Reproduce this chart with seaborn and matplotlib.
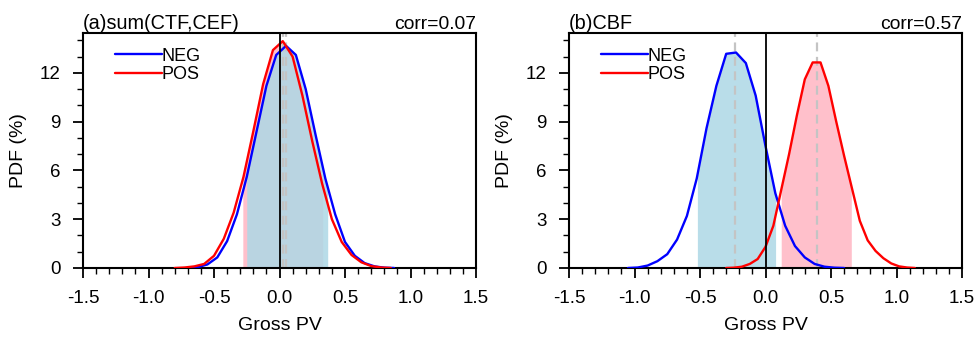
import numpy as np
import matplotlib
matplotlib.use("Agg")
import matplotlib.pyplot as plt
import seaborn as sns
from matplotlib.ticker import MultipleLocator

sns.set_theme(style="ticks")
plt.rcParams["font.family"] = ["Liberation Sans", "DejaVu Sans"]
plt.rcParams["text.color"] = "black"
plt.rcParams["axes.labelcolor"] = "black"

# panel (a): sum(CTF,CEF)
x_neg_a = [-0.7, -0.625, -0.55, -0.475, -0.4, -0.325, -0.25, -0.175, -0.1, -0.025,
           0.05, 0.125, 0.2, 0.275, 0.35, 0.425, 0.5, 0.575, 0.65, 0.725, 0.8, 0.875]
pdf_neg_a = [0.0, 0.05, 0.22, 0.65, 1.65, 3.3, 5.6, 8.4, 11.2, 13.1,
             13.66, 13.1, 11.0, 8.2, 5.5, 3.3, 1.6, 0.75, 0.3, 0.1, 0.02, 0.0]
x_pos_a = [-0.8, -0.725, -0.65, -0.575, -0.5, -0.425, -0.35, -0.275, -0.2, -0.125, -0.05,
           0.025, 0.1, 0.175, 0.25, 0.325, 0.4, 0.475, 0.55, 0.625, 0.7, 0.775, 0.85]
pdf_pos_a = [0.0, 0.03, 0.1, 0.25, 0.75, 1.8, 3.4, 5.6, 8.4, 11.3, 13.4,
             13.95, 13.0, 10.6, 7.8, 5.2, 3.0, 1.6, 0.8, 0.35, 0.12, 0.03, 0.0]

# panel (b): CBF
x_neg_b = [-1.05, -0.975, -0.9, -0.825, -0.75, -0.675, -0.6, -0.525, -0.45, -0.375, -0.3,
           -0.225, -0.15, -0.075, 0.0, 0.075, 0.15, 0.225, 0.3, 0.375, 0.45, 0.525, 0.6]
pdf_neg_b = [0.0, 0.03, 0.15, 0.42, 0.85, 1.75, 3.2, 5.5, 8.6, 11.2, 13.17,
             13.25, 12.6, 10.6, 7.5, 4.6, 2.6, 1.35, 0.65, 0.25, 0.08, 0.02, 0.0]
x_pos_b = [-0.3, -0.24, -0.18, -0.12, -0.06, 0.0, 0.06, 0.12, 0.18, 0.24, 0.3, 0.36, 0.42,
           0.48, 0.54, 0.6, 0.66, 0.72, 0.78, 0.84, 0.9, 0.96, 1.02, 1.08, 1.14]
pdf_pos_b = [0.0, 0.02, 0.08, 0.25, 0.55, 1.3, 2.6, 4.8, 7.0, 9.4, 11.6, 12.64, 12.64,
             11.2, 9.0, 6.9, 4.9, 2.9, 1.7, 1.05, 0.6, 0.28, 0.1, 0.03, 0.0]

panels = [
    {"title": "(a)sum(CTF,CEF)", "corr": "corr=0.07",
     "neg": (x_neg_a, pdf_neg_a), "pos": (x_pos_a, pdf_pos_a),
     "neg_range": (-0.25, 0.368), "pos_range": (-0.28, 0.33),
     "neg_mean": 0.05, "pos_mean": 0.024},
    {"title": "(b)CBF", "corr": "corr=0.57",
     "neg": (x_neg_b, pdf_neg_b), "pos": (x_pos_b, pdf_pos_b),
     "neg_range": (-0.52, 0.077), "pos_range": (0.12, 0.655),
     "neg_mean": -0.235, "pos_mean": 0.39},
]


def fill_range(ax, x, y, lo, hi, color, alpha=1.0):
    x = np.asarray(x)
    xs = np.concatenate([[lo], x[(x > lo) & (x < hi)], [hi]])
    ys = np.interp(xs, x, y)
    ax.fill_between(xs, 0, ys, color=color, lw=0, alpha=alpha, zorder=1)


fig = plt.figure(figsize=(9.74, 3.37), dpi=100)
lefts = [83 / 974, 569 / 974]

for left, p in zip(lefts, panels):
    ax = fig.add_axes([left, 69 / 337, 393 / 974, 235 / 337])

    fill_range(ax, *p["pos"], *p["pos_range"], "pink")
    fill_range(ax, *p["neg"], *p["neg_range"], "lightblue", alpha=0.85)

    for m in (p["neg_mean"], p["pos_mean"]):
        ax.axvline(m, color="#c4c4c4", lw=1.6, ls=(0, (4, 2.5)), zorder=2)

    sns.lineplot(x=p["neg"][0], y=p["neg"][1], color="blue", lw=1.7,
                 label="NEG", ax=ax, zorder=3)
    sns.lineplot(x=p["pos"][0], y=p["pos"][1], color="red", lw=1.7,
                 label="POS", ax=ax, zorder=3)
    ax.axvline(0, color="black", lw=1.3, zorder=4)

    ax.set_xlim(-1.5, 1.5)
    ax.set_ylim(0, 14.45)
    ax.xaxis.set_major_locator(MultipleLocator(0.5))
    ax.xaxis.set_minor_locator(MultipleLocator(0.1))
    ax.yaxis.set_major_locator(MultipleLocator(3))
    ax.yaxis.set_minor_locator(MultipleLocator(1))
    ax.xaxis.set_major_formatter(plt.FuncFormatter(lambda v, _: f"{v:.1f}"))
    ax.tick_params(which="major", direction="out", length=7, width=1.3,
                   labelsize=13.5, pad=9, colors="black")
    ax.tick_params(which="minor", direction="out", length=4, width=1.0, colors="black")
    ax.tick_params(axis="y", pad=9)
    for s in ax.spines.values():
        s.set_linewidth(1.5)
        s.set_color("black")

    ax.set_xlabel("Gross PV", fontsize=14, labelpad=7)
    ax.set_ylabel("PDF (%)", fontsize=14, labelpad=9)
    ax.set_title(p["title"], loc="left", fontsize=14.3, pad=2)
    ax.set_title(p["corr"], loc="right", fontsize=13.9, pad=-1)

    ax.legend(loc="upper left", bbox_to_anchor=(0.081, 0.938), frameon=False,
              fontsize=13, handlelength=2.6, handletextpad=0.0,
              labelspacing=0.1, borderpad=0, borderaxespad=0)

fig.savefig("out.png", dpi=100)
